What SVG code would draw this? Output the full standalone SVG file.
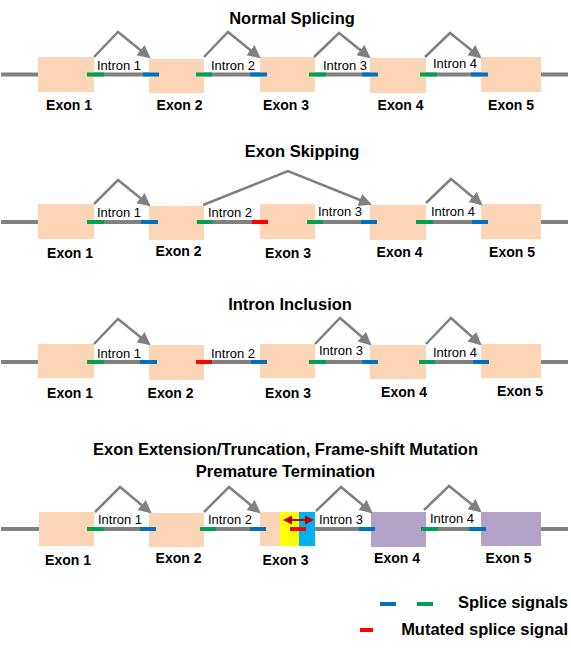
<svg xmlns="http://www.w3.org/2000/svg" width="571" height="665" viewBox="0 0 571 665">
<defs>
<style>
.bg{fill:#ffffff}
.gene{stroke:#808080;stroke-width:4;fill:none}
.ex{fill:#FBD5B5}
.exm{fill:#B3A2C7}
.g{stroke:#00A050;stroke-width:4}
.b{stroke:#0070C0;stroke-width:4}
.r{stroke:#FF0000;stroke-width:4}
.arc{stroke:#808080;stroke-width:2.5;fill:none;marker-end:url(#ah)}
.t{font-family:"Liberation Sans",Arial,sans-serif;font-weight:bold;font-size:16.5px;fill:#000}
.el{font-family:"Liberation Sans",Arial,sans-serif;font-weight:bold;font-size:14px;fill:#000;text-anchor:middle}
.il{font-family:"Liberation Sans",Arial,sans-serif;font-size:13px;fill:#000}
</style>
<marker id="ah" markerUnits="userSpaceOnUse" markerWidth="14" markerHeight="14" refX="11" refY="6.5" orient="auto" viewBox="0 0 14 13">
<path d="M0,0 L13,6.5 L0,13 z" fill="#808080"/>
</marker>
<marker id="rh" markerUnits="userSpaceOnUse" markerWidth="9" markerHeight="9" refX="7" refY="4.5" orient="auto-start-reverse" viewBox="0 0 9 9">
<path d="M0,0 L9,4.5 L0,9 z" fill="#C00000"/>
</marker>
</defs>
<rect class="bg" x="0" y="0" width="571" height="665"/>

<!-- Titles -->
<g id="titles">
<text class="t" x="292" y="24" text-anchor="middle">Normal Splicing</text>
<text class="t" x="302" y="157" text-anchor="middle">Exon Skipping</text>
<text class="t" x="290" y="310" text-anchor="middle">Intron Inclusion</text>
<text class="t" x="285.5" y="455" text-anchor="middle">Exon Extension/Truncation,  Frame-shift Mutation</text>
<text class="t" x="285.5" y="477" text-anchor="middle">Premature Termination</text>
</g>

<!-- Gene backbones -->
<g id="backbones">
<line class="gene" x1="1" y1="74.5" x2="568" y2="74.5"/>
<line class="gene" x1="1" y1="222" x2="568" y2="222"/>
<line class="gene" x1="1" y1="362" x2="568" y2="362"/>
<line class="gene" x1="1" y1="529" x2="568" y2="529"/>
</g>

<!-- Row 1: Normal Splicing -->
<g id="r1-exon1"><rect class="ex" x="38" y="57" width="56" height="35"/><text class="el" x="69" y="110">Exon 1</text></g>
<g id="r1-exon2"><rect class="ex" x="149" y="59" width="55" height="34"/><text class="el" x="179.5" y="110">Exon 2</text></g>
<g id="r1-exon3"><rect class="ex" x="260" y="57" width="55" height="35"/><text class="el" x="286" y="110">Exon 3</text></g>
<g id="r1-exon4"><rect class="ex" x="370" y="58" width="56" height="35"/><text class="el" x="400.5" y="110">Exon 4</text></g>
<g id="r1-exon5"><rect class="ex" x="481" y="57" width="60" height="35"/><text class="el" x="511" y="110">Exon 5</text></g>
<g id="r1-introns">
<line class="g" x1="87" y1="74.5" x2="104" y2="74.5"/><line class="b" x1="143" y1="74.5" x2="159" y2="74.5"/>
<line class="g" x1="196" y1="74.5" x2="212" y2="74.5"/><line class="b" x1="250" y1="74.5" x2="267" y2="74.5"/>
<line class="g" x1="309" y1="74.5" x2="326" y2="74.5"/><line class="b" x1="362" y1="74.5" x2="378" y2="74.5"/>
<line class="g" x1="420" y1="74.5" x2="437" y2="74.5"/><line class="b" x1="471" y1="74.5" x2="488" y2="74.5"/>
<text class="il" x="97" y="70">Intron 1</text>
<text class="il" x="211" y="70">Intron 2</text>
<text class="il" x="323" y="70">Intron 3</text>
<text class="il" x="433" y="68">Intron 4</text>
</g>

<!-- Row 2: Exon Skipping -->
<g id="r2-exon1"><rect class="ex" x="38" y="204" width="56" height="35"/><text class="el" x="70" y="258">Exon 1</text></g>
<g id="r2-exon2"><rect class="ex" x="149" y="206" width="55" height="34"/><text class="el" x="178.5" y="256">Exon 2</text></g>
<g id="r2-exon3"><rect class="ex" x="260" y="204" width="55" height="35"/><text class="el" x="288" y="258">Exon 3</text></g>
<g id="r2-exon4"><rect class="ex" x="370" y="205" width="56" height="35"/><text class="el" x="399.5" y="257">Exon 4</text></g>
<g id="r2-exon5"><rect class="ex" x="481" y="204" width="60" height="35"/><text class="el" x="512" y="257">Exon 5</text></g>
<g id="r2-introns">
<line class="g" x1="87" y1="222" x2="104" y2="222"/><line class="b" x1="141" y1="222" x2="158" y2="222"/>
<line class="g" x1="197" y1="222" x2="213" y2="222"/><line class="r" x1="252" y1="222" x2="268" y2="222"/>
<line class="g" x1="307" y1="222" x2="323" y2="222"/><line class="b" x1="361" y1="222" x2="377" y2="222"/>
<line class="g" x1="416" y1="222" x2="433" y2="222"/><line class="b" x1="472" y1="222" x2="488" y2="222"/>
<text class="il" x="97" y="217">Intron 1</text>
<text class="il" x="208" y="217">Intron 2</text>
<text class="il" x="318" y="216">Intron 3</text>
<text class="il" x="431" y="216">Intron 4</text>
</g>

<!-- Row 3: Intron Inclusion -->
<g id="r3-exon1"><rect class="ex" x="38" y="344" width="56" height="34"/><text class="el" x="70" y="398">Exon 1</text></g>
<g id="r3-exon2"><rect class="ex" x="149" y="345" width="55" height="35"/><text class="el" x="170.5" y="398">Exon 2</text></g>
<g id="r3-exon3"><rect class="ex" x="260" y="344" width="55" height="34"/><text class="el" x="288" y="398">Exon 3</text></g>
<g id="r3-exon4"><rect class="ex" x="370" y="345" width="56" height="34"/><text class="el" x="404" y="397">Exon 4</text></g>
<g id="r3-exon5"><rect class="ex" x="481" y="344" width="60" height="34"/><text class="el" x="520" y="396">Exon 5</text></g>
<g id="r3-introns">
<line class="g" x1="87" y1="362" x2="104" y2="362"/><line class="b" x1="140" y1="362" x2="157" y2="362"/>
<line class="r" x1="196" y1="362" x2="212" y2="362"/><line class="b" x1="251" y1="362" x2="267" y2="362"/>
<line class="g" x1="309" y1="362" x2="326" y2="362"/><line class="b" x1="362" y1="362" x2="378" y2="362"/>
<line class="g" x1="419" y1="362" x2="435" y2="362"/><line class="b" x1="473" y1="362" x2="489" y2="362"/>
<text class="il" x="97" y="358">Intron 1</text>
<text class="il" x="211" y="358">Intron 2</text>
<text class="il" x="319" y="355">Intron 3</text>
<text class="il" x="433" y="357">Intron 4</text>
</g>

<!-- Row 4: Exon Extension/Truncation -->
<g id="r4-exon1"><rect class="ex" x="39" y="512" width="55" height="34"/><text class="el" x="68" y="565">Exon 1</text></g>
<g id="r4-exon2"><rect class="ex" x="149" y="513" width="55" height="34"/><text class="el" x="178.5" y="563">Exon 2</text></g>
<g id="r4-exon3">
<rect class="ex" x="260" y="512" width="20" height="34"/>
<rect x="280" y="512" width="19" height="34" fill="#FFFF00"/>
<rect x="299" y="512" width="16" height="34" fill="#00B0F0"/>
<line class="r" x1="290" y1="529" x2="306" y2="529"/>
<line x1="285" y1="520" x2="312" y2="520" stroke="#C00000" stroke-width="2" marker-start="url(#rh)" marker-end="url(#rh)"/>
<text class="el" x="285.5" y="565">Exon 3</text>
</g>
<g id="r4-exon4"><rect class="exm" x="371" y="512" width="55" height="35"/><text class="el" x="397" y="563">Exon 4</text></g>
<g id="r4-exon5"><rect class="exm" x="481" y="512" width="60" height="34"/><text class="el" x="508.5" y="563">Exon 5</text></g>
<g id="r4-introns">
<line class="g" x1="87" y1="529" x2="104" y2="529"/><line class="b" x1="140" y1="529" x2="156" y2="529"/>
<line class="g" x1="200" y1="529" x2="216" y2="529"/><line class="b" x1="250" y1="529" x2="266" y2="529"/>
<line class="b" x1="359" y1="529" x2="375" y2="529"/>
<line class="g" x1="421" y1="529" x2="438" y2="529"/><line class="b" x1="469" y1="529" x2="486" y2="529"/>
<text class="il" x="98" y="524">Intron 1</text>
<text class="il" x="208" y="524">Intron 2</text>
<text class="il" x="319" y="524">Intron 3</text>
<text class="il" x="430" y="523">Intron 4</text>
</g>

<!-- Connectors: splicing arcs -->
<g id="connectors">
<polyline class="arc" points="94,57 118,32 149,57"/>
<polyline class="arc" points="204,57 228,32 259,57"/>
<polyline class="arc" points="314,57 339,33 369,57"/>
<polyline class="arc" points="425,57 450,33 480,57"/>

<polyline class="arc" points="94,204 118,180 149,205"/>
<polyline class="arc" points="203,205 288,171 370,204"/>
<polyline class="arc" points="426,203 451,179 481,204"/>

<polyline class="arc" points="94,344 118,319 149,344"/>
<polyline class="arc" points="315,344 340,318 370,344"/>
<polyline class="arc" points="426,344 451,318 480,344"/>

<polyline class="arc" points="95,512 120,487 150,512"/>
<polyline class="arc" points="204,512 229,487 259,512"/>
<polyline class="arc" points="316,511 341,487 371,512"/>
<polyline class="arc" points="424,510 449,486 480,511"/>
</g>

<!-- Legend -->
<g id="legend">
<line class="b" x1="380" y1="604" x2="396" y2="604"/>
<line class="g" x1="417" y1="604" x2="433" y2="604"/>
<text class="t" x="568" y="608" text-anchor="end">Splice signals</text>
<line class="r" x1="360" y1="630" x2="373" y2="630"/>
<text class="t" x="568" y="635" text-anchor="end">Mutated splice signal</text>
</g>
</svg>
